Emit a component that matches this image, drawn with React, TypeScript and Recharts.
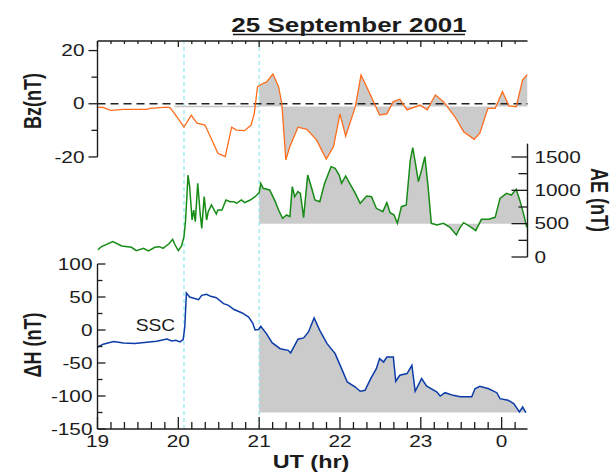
import { ComposedChart, Line, Area, XAxis, YAxis, ReferenceLine } from 'recharts';

// UT in hours (24 = 00 UT next day)
const BZ_T = [
  19.0, 19.07, 19.16, 19.32, 19.61, 19.65, 19.86, 19.9, 19.98, 20.07, 20.16, 20.23, 20.33, 20.49, 20.58,
  20.66, 20.72, 20.82, 20.9, 20.94, 20.98, 21.0, 21.05, 21.09, 21.17, 21.24, 21.28, 21.33, 21.38, 21.48,
  21.59, 21.71, 21.83, 21.92, 22.0, 22.07, 22.19, 22.26, 22.33, 22.49, 22.58, 22.66, 22.74, 22.83, 22.99,
  23.08, 23.18, 23.28, 23.42, 23.53, 23.66, 23.73, 23.83, 23.92, 24.01, 24.09, 24.18, 24.26, 24.32,
];
const BZ_NT = [
  -1.3, -1.4, -2.5, -2.1, -2.1, -1.7, -1.3, -1.5, -4.8, -8.8, -4.3, -7.3, -8.0, -18.6, -19.9,
  -8.8, -9.9, -10.1, -8.0, -3.6, 6.4, 6.8, 7.7, 8.1, 11.2, 6.4, 0.2, -21.1, -16.1, -8.8,
  -9.6, -13.6, -20.8, -16.1, -3.8, -12.2, -1.1, 10.8, 6.4, -4.2, -3.8, 0.8, 1.7, -2.3, -0.5,
  -2.3, 3.3, 0.8, -4.8, -10.5, -13.4, -11.1, -1.7, -1.7, 4.6, -0.8, -1.1, 9.0, 11.0,
];

const AE_T = [
  19.0, 19.05, 19.19, 19.3, 19.42, 19.48, 19.57, 19.63, 19.71, 19.77, 19.81, 19.88, 19.93, 19.96, 20.0,
  20.04, 20.07, 20.09, 20.12, 20.14, 20.17, 20.19, 20.21, 20.24, 20.27, 20.29, 20.32, 20.35, 20.37, 20.41,
  20.47, 20.49, 20.54, 20.59, 20.64, 20.69, 20.72, 20.78, 20.82, 20.89, 20.95, 20.99, 21.0, 21.02, 21.05,
  21.13, 21.2, 21.24, 21.29, 21.34, 21.38, 21.41, 21.44, 21.48, 21.51, 21.55, 21.6, 21.65, 21.69, 21.75,
  21.81, 21.89, 21.94, 21.99, 22.02, 22.07, 22.12, 22.19, 22.25, 22.33, 22.39, 22.45, 22.53, 22.58, 22.62,
  22.67, 22.71, 22.76, 22.82, 22.87, 22.9, 22.93, 22.97, 23.01, 23.05, 23.09, 23.13, 23.2, 23.28, 23.36,
  23.44, 23.48, 23.53, 23.61, 23.68, 23.75, 23.84, 23.92, 23.98, 24.06, 24.12, 24.18, 24.23, 24.28, 24.31,
];
const AE_NT = [
  105, 155, 230, 165, 145, 95, 130, 90, 145, 155, 130, 195, 265, 180, 95,
  165, 305, 555, 1230, 1055, 555, 705, 530, 1105, 655, 430, 905, 555, 680, 780,
  645, 705, 705, 855, 830, 830, 805, 855, 815, 855, 905, 955, 960, 1105, 1030,
  1005, 830, 705, 580, 630, 605, 1055, 905, 980, 955, 590, 1230, 1030, 855, 830,
  1105, 1355, 1330, 1230, 1105, 1215, 1105, 955, 805, 915, 905, 730, 680, 815, 665,
  630, 505, 755, 780, 1455, 1640, 1430, 1130, 1305, 1505, 1055, 505, 480, 505, 445,
  330, 430, 515, 455, 395, 565, 565, 595, 880, 955, 930, 1015, 830, 605, 445,
];

const DH_T = [
  19.0, 19.07, 19.2, 19.32, 19.46, 19.61, 19.73, 19.86, 19.92, 19.97, 20.02, 20.06, 20.08, 20.1, 20.14,
  20.25, 20.29, 20.35, 20.4, 20.47, 20.56, 20.62, 20.69, 20.79, 20.87, 20.92, 20.95, 20.99, 21.0, 21.02,
  21.09, 21.16, 21.26, 21.36, 21.39, 21.48, 21.55, 21.61, 21.68, 21.75, 21.84, 21.94, 22.02, 22.09, 22.19,
  22.25, 22.31, 22.38, 22.45, 22.49, 22.54, 22.58, 22.66, 22.69, 22.74, 22.83, 22.89, 22.93, 23.01, 23.07,
  23.2, 23.24, 23.3, 23.4, 23.49, 23.63, 23.67, 23.73, 23.84, 23.94, 23.98, 24.08, 24.15, 24.22, 24.26, 24.3,
];
const DH_NT = [
  -26, -21.5, -17.5, -19.6, -20.5, -18.5, -17, -13.6, -16.6, -15.6, -18, -14.5, 4.5, 56, 50,
  46, 52.5, 54, 51, 49, 40, 37.4, 31, 25.8, 19.7, 10.6, 0, 0.6, 2, 5.6,
  -5.5, -19.2, -28.3, -30.8, -34.8, -14, -12, -3, 18.2, -0.5, -20.6, -35.8, -58.5, -78.8, -86.4,
  -92.9, -91.4, -73.6, -58.5, -43.3, -48.5, -40.9, -40.9, -77.7, -68.6, -66, -53.5, -92.9, -73.6, -84.8,
  -93.9, -100, -95, -99, -101, -101, -89, -85.3, -89, -95, -104, -106.5, -111.5, -124, -116.7, -125.2,
];

const HOUR_TICKS = [19, 20, 21, 22, 23, 24];
const HOUR_LABELS = ['19', '20', '21', '22', '23', '0'];
const BZ_TICKS = [-20, -10, 0, 10, 20];
const AE_TICKS = [0, 250, 500, 750, 1000, 1250, 1500];
const DH_TICKS = [-150, -125, -100, -75, -50, -25, 0, 25, 50, 75, 100];

const SSC_T = 20.07;
const ONSET_T = 21.0;
const BZ_BASE = -1;
const AE_BASE = 500;
const DH_BASE = -125;

// every panel shares the full plot height; these domains stack the panels
const X_DOMAIN: [number, number] = [19, 24.32];
const BZ_DOMAIN: [number, number] = [-122.3, 23.6];
const AE_DOMAIN: [number, number] = [-2580, 3240];
const DH_DOMAIN: [number, number] = [-150, 437.9];

const X_TICKS = HOUR_TICKS.flatMap((h) => [0, 1, 2, 3, 4, 5].map((k) => h + k / 6)).filter(
  (t) => t <= X_DOMAIN[1]
);

const rows = (ts: number[], vs: number[]) => ts.map((t, i) => ({ t, v: vs[i] }));
const bzData = rows(BZ_T, BZ_NT);
const aeData = rows(AE_T, AE_NT);
const dhData = rows(DH_T, DH_NT);
const afterOnset = (d: { t: number; v: number }[]) => d.filter((p) => p.t >= ONSET_T);

const FONT = "'Liberation Sans', Arial, sans-serif";
const INK = '#1c1c1c';
const FILL = '#cbcbcb';
const CYAN = '#8ce9f0';
const tickText = { fontFamily: FONT, fontSize: 16, fill: INK };

function topTick(p: any) {
  const { x, y, payload } = p;
  const major = HOUR_TICKS.includes(payload.value);
  return <line x1={x} x2={x} y1={y} y2={y + (major ? 6 : 3)} stroke={INK} strokeWidth={1.3} />;
}

function bottomTick(p: any) {
  const { x, y, payload } = p;
  const h = HOUR_TICKS.indexOf(payload.value);
  return (
    <g>
      <line x1={x} x2={x} y1={y} y2={y - (h >= 0 ? 12 : 7)} stroke={INK} strokeWidth={1.3} />
      {h >= 0 && (
        <text transform={`translate(${x},${y + 18}) scale(1.3,1)`} textAnchor="middle" {...tickText}>
          {HOUR_LABELS[h]}
        </text>
      )}
    </g>
  );
}

function bzTick(p: any) {
  const { x, y, payload } = p;
  const major = payload.value % 20 === 0;
  return (
    <g>
      <line x1={x - (major ? 9 : 6)} x2={x} y1={y} y2={y} stroke={INK} strokeWidth={1.3} />
      {major && (
        <text transform={`translate(${x - 13},${y + 5.7}) scale(1.3,1)`} textAnchor="end" {...tickText}>
          {payload.value}
        </text>
      )}
    </g>
  );
}

function dhTick(p: any) {
  const { x, y, payload } = p;
  const major = payload.value % 50 === 0;
  return (
    <g>
      <line x1={x} x2={x + (major ? 8 : 5)} y1={y} y2={y} stroke={INK} strokeWidth={1.3} />
      {major && (
        <text transform={`translate(${x - 5},${y + 5.7}) scale(1.3,1)`} textAnchor="end" {...tickText}>
          {payload.value}
        </text>
      )}
    </g>
  );
}

function aeTick(p: any) {
  const { x, y, payload } = p;
  const major = payload.value % 500 === 0;
  return (
    <g>
      <line x1={x - (major ? 16 : 9)} x2={x} y1={y} y2={y} stroke={INK} strokeWidth={1.3} />
      {major && (
        <text transform={`translate(${x + 7},${y + 5.7}) scale(1.3,1)`} textAnchor="start" {...tickText}>
          {payload.value}
        </text>
      )}
    </g>
  );
}

const label = { fontFamily: FONT, fontSize: 18, fontWeight: 700, fill: INK };

export default function App() {
  return (
    <div style={{ position: 'relative', width: 615, height: 476, background: '#fff' }}>
      <style>{'body{margin:0}'}</style>
      <ComposedChart width={615} height={476} margin={{ top: 40, right: 37.5, bottom: 17, left: 57.5 }}>
        <XAxis
          xAxisId="b"
          dataKey="t"
          type="number"
          domain={X_DOMAIN}
          allowDataOverflow
          ticks={X_TICKS}
          interval={0}
          tick={bottomTick}
          tickLine={false}
          tickSize={0}
          tickMargin={0}
          height={30}
          stroke={INK}
          strokeWidth={1.4}
        />
        <XAxis
          xAxisId="t"
          orientation="top"
          dataKey="t"
          type="number"
          domain={X_DOMAIN}
          allowDataOverflow
          ticks={X_TICKS}
          interval={0}
          tick={topTick}
          tickLine={false}
          tickSize={0}
          tickMargin={0}
          height={1}
          stroke={INK}
          strokeWidth={1.4}
        />
        <YAxis
          yAxisId="bz"
          type="number"
          domain={BZ_DOMAIN}
          allowDataOverflow
          ticks={BZ_TICKS}
          interval={0}
          tick={bzTick}
          tickLine={false}
          axisLine={false}
          tickSize={0}
          tickMargin={0}
          width={40}
        />
        <YAxis
          yAxisId="dh"
          type="number"
          mirror
          domain={DH_DOMAIN}
          allowDataOverflow
          ticks={DH_TICKS}
          interval={0}
          tick={dhTick}
          tickLine={false}
          axisLine={false}
          tickSize={0}
          tickMargin={0}
          width={40}
        />
        <YAxis
          yAxisId="ae"
          orientation="right"
          type="number"
          domain={AE_DOMAIN}
          allowDataOverflow
          ticks={AE_TICKS}
          interval={0}
          tick={aeTick}
          tickLine={false}
          axisLine={false}
          tickSize={0}
          tickMargin={0}
          width={50}
        />

        <ReferenceLine xAxisId="b" yAxisId="dh" x={SSC_T} stroke={CYAN} strokeWidth={1.2} strokeDasharray="4 3" />
        <ReferenceLine xAxisId="b" yAxisId="dh" x={ONSET_T} stroke={CYAN} strokeWidth={1.2} strokeDasharray="4 3" />

        <Area
          xAxisId="b"
          yAxisId="bz"
          data={afterOnset(bzData)}
          dataKey="v"
          type="linear"
          baseValue={BZ_BASE}
          fill={FILL}
          fillOpacity={1}
          stroke="none"
          isAnimationActive={false}
        />
        <Area
          xAxisId="b"
          yAxisId="ae"
          data={afterOnset(aeData)}
          dataKey="v"
          type="linear"
          baseValue={AE_BASE}
          fill={FILL}
          fillOpacity={1}
          stroke="none"
          isAnimationActive={false}
        />
        <Area
          xAxisId="b"
          yAxisId="dh"
          data={afterOnset(dhData)}
          dataKey="v"
          type="linear"
          baseValue={DH_BASE}
          fill={FILL}
          fillOpacity={1}
          stroke="none"
          isAnimationActive={false}
        />

        <ReferenceLine
          xAxisId="b"
          yAxisId="bz"
          segment={[{ x: 19.95, y: BZ_BASE }, { x: ONSET_T, y: BZ_BASE }]}
          stroke="#c4c4c4"
          strokeWidth={1.5}
          ifOverflow="visible"
        />
        <ReferenceLine xAxisId="b" yAxisId="bz" y={0} stroke="#222" strokeWidth={1.5} strokeDasharray="8 5" />

        <Line
          xAxisId="b"
          yAxisId="bz"
          data={bzData}
          dataKey="v"
          type="linear"
          stroke="#ff6c1c"
          strokeWidth={1.3}
          dot={false}
          isAnimationActive={false}
        />
        <Line
          xAxisId="b"
          yAxisId="ae"
          data={aeData}
          dataKey="v"
          type="linear"
          stroke="#168c16"
          strokeWidth={1.5}
          dot={false}
          isAnimationActive={false}
        />
        <Line
          xAxisId="b"
          yAxisId="dh"
          data={dhData}
          dataKey="v"
          type="linear"
          stroke="#0b3ca8"
          strokeWidth={1.5}
          dot={false}
          isAnimationActive={false}
        />

        {/* partial axis lines for the stacked panels */}
        <ReferenceLine
          xAxisId="b"
          yAxisId="bz"
          segment={[{ x: X_DOMAIN[0], y: -20 }, { x: X_DOMAIN[0], y: BZ_DOMAIN[1] }]}
          stroke={INK}
          strokeWidth={1.4}
          ifOverflow="visible"
        />
        <ReferenceLine
          xAxisId="b"
          yAxisId="dh"
          segment={[{ x: X_DOMAIN[0], y: -150 }, { x: X_DOMAIN[0], y: 100 }]}
          stroke={INK}
          strokeWidth={1.4}
          ifOverflow="visible"
        />
        <ReferenceLine
          xAxisId="b"
          yAxisId="ae"
          segment={[{ x: X_DOMAIN[1], y: 0 }, { x: X_DOMAIN[1], y: 1700 }]}
          stroke={INK}
          strokeWidth={1.4}
          ifOverflow="visible"
        />
      </ComposedChart>

      <svg width={615} height={476} style={{ position: 'absolute', left: 0, top: 0, pointerEvents: 'none' }}>
        <text transform="translate(349,31.5) scale(1.3,1)" textAnchor="middle" {...label} fontSize={20}>
          25 September 2001
        </text>
        <line x1={233} x2={465} y1={34.5} y2={34.5} stroke={INK} strokeWidth={1.6} />
        <text transform="translate(33,101) rotate(-90) scale(1,1.3)" textAnchor="middle" dominantBaseline="central" {...label}>
          Bz(nT)
        </text>
        <text transform="translate(33,345) rotate(-90) scale(1,1.3)" textAnchor="middle" dominantBaseline="central" {...label}>
          ΔH (nT)
        </text>
        <text transform="translate(599,200) rotate(90) scale(1,1.3)" textAnchor="middle" dominantBaseline="central" {...label}>
          AE (nT)
        </text>
        <text transform="translate(311,468) scale(1.3,1)" textAnchor="middle" {...label}>
          UT (hr)
        </text>
        <text transform="translate(155.5,330.5) scale(1.2,1)" textAnchor="middle" fontFamily={FONT} fontSize={16} fill={INK}>
          SSC
        </text>
      </svg>
    </div>
  );
}
